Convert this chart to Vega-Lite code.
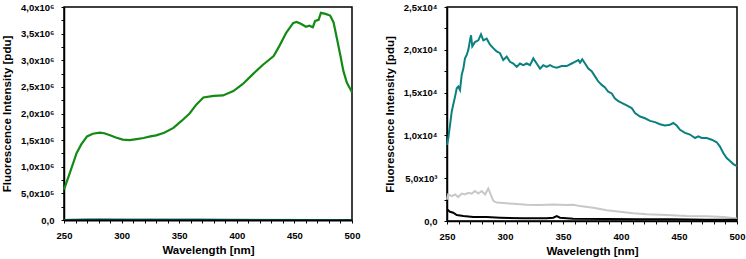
{
  "$schema": "https://vega.github.io/schema/vega-lite/v6.json",
  "background": "white",
  "padding": {"left": 0, "top": 1, "right": 0, "bottom": 0},
  "config": {
    "view": {"stroke": "black", "strokeWidth": 1.5},
    "concat": {"spacing": 22},
    "axis": {
      "domainColor": "black", "domainWidth": 1.5,
      "tickColor": "black", "tickWidth": 1, "tickSize": 3,
      "labelFont": "Liberation Sans", "labelFontWeight": "bold", "labelFontSize": 9.5, "labelColor": "black",
      "titleFont": "Liberation Sans", "titleFontWeight": "bold", "titleFontSize": 11.5, "titleColor": "black",
      "grid": false, "labelOverlap": false, "labelFlush": false
    },
    "axisX": {"labelPadding": 7, "titlePadding": 5},
    "axisY": {"labelPadding": 7, "titlePadding": 8}
  },
  "datasets": {
    "spectra": [
      {"series": "A", "wl": 250, "v": 570000},
      {"series": "A", "wl": 255, "v": 880000},
      {"series": "A", "wl": 261, "v": 1260000},
      {"series": "A", "wl": 265, "v": 1420000},
      {"series": "A", "wl": 270, "v": 1570000},
      {"series": "A", "wl": 275, "v": 1620000},
      {"series": "A", "wl": 281, "v": 1640000},
      {"series": "A", "wl": 285, "v": 1630000},
      {"series": "A", "wl": 290, "v": 1590000},
      {"series": "A", "wl": 295, "v": 1550000},
      {"series": "A", "wl": 301, "v": 1510000},
      {"series": "A", "wl": 307, "v": 1500000},
      {"series": "A", "wl": 313, "v": 1520000},
      {"series": "A", "wl": 319, "v": 1540000},
      {"series": "A", "wl": 325, "v": 1570000},
      {"series": "A", "wl": 330, "v": 1590000},
      {"series": "A", "wl": 337, "v": 1640000},
      {"series": "A", "wl": 345, "v": 1730000},
      {"series": "A", "wl": 352, "v": 1860000},
      {"series": "A", "wl": 359, "v": 2000000},
      {"series": "A", "wl": 365, "v": 2170000},
      {"series": "A", "wl": 371, "v": 2300000},
      {"series": "A", "wl": 380, "v": 2330000},
      {"series": "A", "wl": 388, "v": 2340000},
      {"series": "A", "wl": 397, "v": 2420000},
      {"series": "A", "wl": 405, "v": 2550000},
      {"series": "A", "wl": 414, "v": 2740000},
      {"series": "A", "wl": 423, "v": 2920000},
      {"series": "A", "wl": 432, "v": 3080000},
      {"series": "A", "wl": 437, "v": 3270000},
      {"series": "A", "wl": 443, "v": 3520000},
      {"series": "A", "wl": 449, "v": 3700000},
      {"series": "A", "wl": 452, "v": 3720000},
      {"series": "A", "wl": 456, "v": 3680000},
      {"series": "A", "wl": 460, "v": 3630000},
      {"series": "A", "wl": 463, "v": 3650000},
      {"series": "A", "wl": 466, "v": 3620000},
      {"series": "A", "wl": 468, "v": 3740000},
      {"series": "A", "wl": 471, "v": 3760000},
      {"series": "A", "wl": 473, "v": 3890000},
      {"series": "A", "wl": 477, "v": 3870000},
      {"series": "A", "wl": 481, "v": 3840000},
      {"series": "A", "wl": 484, "v": 3710000},
      {"series": "A", "wl": 487, "v": 3400000},
      {"series": "A", "wl": 490, "v": 3080000},
      {"series": "A", "wl": 492.5, "v": 2800000},
      {"series": "A", "wl": 495.5, "v": 2580000},
      {"series": "A", "wl": 500, "v": 2400000},

      {"series": "B", "wl": 250, "v": 8900},
      {"series": "B", "wl": 251.1, "v": 9700},
      {"series": "B", "wl": 252.6, "v": 11200},
      {"series": "B", "wl": 254.1, "v": 12800},
      {"series": "B", "wl": 255.4, "v": 13600},
      {"series": "B", "wl": 256.9, "v": 14500},
      {"series": "B", "wl": 258.4, "v": 15500},
      {"series": "B", "wl": 259.7, "v": 15700},
      {"series": "B", "wl": 261.2, "v": 15300},
      {"series": "B", "wl": 262.7, "v": 17100},
      {"series": "B", "wl": 264.1, "v": 17800},
      {"series": "B", "wl": 265.5, "v": 19000},
      {"series": "B", "wl": 267, "v": 19400},
      {"series": "B", "wl": 268.4, "v": 20000},
      {"series": "B", "wl": 269.8, "v": 21100},
      {"series": "B", "wl": 270.7, "v": 21700},
      {"series": "B", "wl": 271.8, "v": 20400},
      {"series": "B", "wl": 274.1, "v": 20900},
      {"series": "B", "wl": 277, "v": 21100},
      {"series": "B", "wl": 279.3, "v": 21800},
      {"series": "B", "wl": 281.3, "v": 21100},
      {"series": "B", "wl": 284.2, "v": 21300},
      {"series": "B", "wl": 287.1, "v": 20600},
      {"series": "B", "wl": 289.9, "v": 20200},
      {"series": "B", "wl": 292.8, "v": 19800},
      {"series": "B", "wl": 295.7, "v": 19600},
      {"series": "B", "wl": 298.5, "v": 18800},
      {"series": "B", "wl": 301.5, "v": 19200},
      {"series": "B", "wl": 304.3, "v": 18600},
      {"series": "B", "wl": 307.2, "v": 18400},
      {"series": "B", "wl": 310.1, "v": 18000},
      {"series": "B", "wl": 312.9, "v": 18400},
      {"series": "B", "wl": 315.8, "v": 18200},
      {"series": "B", "wl": 318.7, "v": 18400},
      {"series": "B", "wl": 321.6, "v": 18200},
      {"series": "B", "wl": 324.4, "v": 19000},
      {"series": "B", "wl": 327.3, "v": 18400},
      {"series": "B", "wl": 330.2, "v": 17800},
      {"series": "B", "wl": 333, "v": 18200},
      {"series": "B", "wl": 335.9, "v": 18000},
      {"series": "B", "wl": 338.8, "v": 18200},
      {"series": "B", "wl": 341.6, "v": 18000},
      {"series": "B", "wl": 344.6, "v": 17900},
      {"series": "B", "wl": 348.9, "v": 18100},
      {"series": "B", "wl": 353.2, "v": 18100},
      {"series": "B", "wl": 357.5, "v": 18400},
      {"series": "B", "wl": 360.3, "v": 18600},
      {"series": "B", "wl": 363.2, "v": 18800},
      {"series": "B", "wl": 364.7, "v": 18500},
      {"series": "B", "wl": 366.6, "v": 18900},
      {"series": "B", "wl": 369, "v": 18400},
      {"series": "B", "wl": 371.8, "v": 17800},
      {"series": "B", "wl": 374.7, "v": 17500},
      {"series": "B", "wl": 377.6, "v": 16900},
      {"series": "B", "wl": 380.4, "v": 16300},
      {"series": "B", "wl": 383.4, "v": 15900},
      {"series": "B", "wl": 386.2, "v": 15600},
      {"series": "B", "wl": 389, "v": 15100},
      {"series": "B", "wl": 392, "v": 14900},
      {"series": "B", "wl": 394.8, "v": 14300},
      {"series": "B", "wl": 397.7, "v": 14000},
      {"series": "B", "wl": 400.6, "v": 13800},
      {"series": "B", "wl": 404.9, "v": 13500},
      {"series": "B", "wl": 409.2, "v": 13200},
      {"series": "B", "wl": 412.1, "v": 12600},
      {"series": "B", "wl": 416.4, "v": 12200},
      {"series": "B", "wl": 420.7, "v": 12000},
      {"series": "B", "wl": 425, "v": 11700},
      {"series": "B", "wl": 429.3, "v": 11550},
      {"series": "B", "wl": 433.6, "v": 11300},
      {"series": "B", "wl": 437.9, "v": 11150},
      {"series": "B", "wl": 442.2, "v": 11250},
      {"series": "B", "wl": 445.1, "v": 11450},
      {"series": "B", "wl": 448, "v": 11150},
      {"series": "B", "wl": 450.9, "v": 10650},
      {"series": "B", "wl": 455.2, "v": 10300},
      {"series": "B", "wl": 459.5, "v": 10100},
      {"series": "B", "wl": 463.8, "v": 9700},
      {"series": "B", "wl": 466.6, "v": 9900},
      {"series": "B", "wl": 469.6, "v": 9700},
      {"series": "B", "wl": 473.9, "v": 9700},
      {"series": "B", "wl": 478.2, "v": 9500},
      {"series": "B", "wl": 482.5, "v": 9200},
      {"series": "B", "wl": 485.3, "v": 8700},
      {"series": "B", "wl": 488.2, "v": 7950},
      {"series": "B", "wl": 491.1, "v": 7350},
      {"series": "B", "wl": 494, "v": 7000},
      {"series": "B", "wl": 496.8, "v": 6650},
      {"series": "B", "wl": 500, "v": 6400},

      {"series": "C", "wl": 250, "v": 2500},
      {"series": "C", "wl": 251, "v": 3100},
      {"series": "C", "wl": 254, "v": 2900},
      {"series": "C", "wl": 257, "v": 3100},
      {"series": "C", "wl": 259.7, "v": 2800},
      {"series": "C", "wl": 262.7, "v": 3200},
      {"series": "C", "wl": 265.5, "v": 3100},
      {"series": "C", "wl": 268.4, "v": 3300},
      {"series": "C", "wl": 271.3, "v": 3200},
      {"series": "C", "wl": 274.1, "v": 3500},
      {"series": "C", "wl": 277, "v": 3200},
      {"series": "C", "wl": 279.9, "v": 3500},
      {"series": "C", "wl": 282.8, "v": 3100},
      {"series": "C", "wl": 285.6, "v": 3800},
      {"series": "C", "wl": 287.1, "v": 3300},
      {"series": "C", "wl": 289.9, "v": 2350},
      {"series": "C", "wl": 292.8, "v": 2150},
      {"series": "C", "wl": 295.7, "v": 2130},
      {"series": "C", "wl": 307.2, "v": 2010},
      {"series": "C", "wl": 318.7, "v": 1900},
      {"series": "C", "wl": 330.2, "v": 1860},
      {"series": "C", "wl": 341.6, "v": 1940},
      {"series": "C", "wl": 353.2, "v": 1860},
      {"series": "C", "wl": 358.9, "v": 1900},
      {"series": "C", "wl": 364.7, "v": 1740},
      {"series": "C", "wl": 376.1, "v": 1550},
      {"series": "C", "wl": 387.7, "v": 1250},
      {"series": "C", "wl": 399.1, "v": 1080},
      {"series": "C", "wl": 410.6, "v": 900},
      {"series": "C", "wl": 422.2, "v": 780},
      {"series": "C", "wl": 439.4, "v": 700},
      {"series": "C", "wl": 456.6, "v": 580},
      {"series": "C", "wl": 473.9, "v": 560},
      {"series": "C", "wl": 488.2, "v": 470},
      {"series": "C", "wl": 500, "v": 300},

      {"series": "D", "wl": 250, "v": 1360},
      {"series": "D", "wl": 252.6, "v": 1080},
      {"series": "D", "wl": 255.4, "v": 970},
      {"series": "D", "wl": 258.4, "v": 700},
      {"series": "D", "wl": 264.1, "v": 580},
      {"series": "D", "wl": 272.7, "v": 470},
      {"series": "D", "wl": 284.2, "v": 470},
      {"series": "D", "wl": 295.7, "v": 390},
      {"series": "D", "wl": 315.8, "v": 310},
      {"series": "D", "wl": 335.9, "v": 310},
      {"series": "D", "wl": 341.6, "v": 390},
      {"series": "D", "wl": 344.6, "v": 580},
      {"series": "D", "wl": 347.4, "v": 390},
      {"series": "D", "wl": 358.9, "v": 270},
      {"series": "D", "wl": 387.7, "v": 230},
      {"series": "D", "wl": 416.4, "v": 190},
      {"series": "D", "wl": 445.1, "v": 190},
      {"series": "D", "wl": 473.9, "v": 150},
      {"series": "D", "wl": 500, "v": 150}
    ]
  },
  "hconcat": [
    {
      "width": 288,
      "height": 213,
      "data": {"name": "spectra"},
      "encoding": {
        "x": {
          "field": "wl", "type": "quantitative",
          "scale": {"domain": [250, 500], "nice": false, "zero": false},
          "axis": {
            "title": "Wavelength [nm]", "zindex": 1, "domainWidth": 2,
            "values": [250, 260, 270, 280, 290, 300, 310, 320, 330, 340, 350, 360, 370, 380, 390, 400, 410, 420, 430, 440, 450, 460, 470, 480, 490, 500],
            "labelExpr": "datum.value % 50 == 0 ? format(datum.value, 'd') : ''"
          }
        },
        "y": {
          "field": "v", "type": "quantitative",
          "scale": {"domain": [0, 4000000], "nice": false},
          "axis": {
            "title": "Fluorescence Intensity [pdu]",
            "values": [0, 250000, 500000, 750000, 1000000, 1250000, 1500000, 1750000, 2000000, 2250000, 2500000, 2750000, 3000000, 3250000, 3500000, 3750000, 4000000],
            "labelExpr": "datum.value % 500000 != 0 ? '' : datum.value == 0 ? '0,0' : datum.value < 1000000 ? replace(format(datum.value / 100000, '.1f'), '.', ',') + 'x10⁵' : replace(format(datum.value / 1000000, '.1f'), '.', ',') + 'x10⁶'"
          }
        }
      },
      "layer": [
        {
          "transform": [{"filter": "datum.series == 'B'"}],
          "mark": {"type": "line", "color": "#0a8080", "strokeWidth": 1}
        },
        {
          "transform": [{"filter": "datum.series == 'A'"}],
          "mark": {"type": "line", "color": "#138a13", "strokeWidth": 2.2}
        }
      ]
    },
    {
      "width": 290,
      "height": 214,
      "data": {"name": "spectra"},
      "transform": [{"filter": "datum.series != 'A'"}],
      "encoding": {
        "x": {
          "field": "wl", "type": "quantitative",
          "scale": {"domain": [250, 500], "nice": false, "zero": false},
          "axis": {
            "title": "Wavelength [nm]",
            "values": [250, 260, 270, 280, 290, 300, 310, 320, 330, 340, 350, 360, 370, 380, 390, 400, 410, 420, 430, 440, 450, 460, 470, 480, 490, 500],
            "labelExpr": "datum.value % 50 == 0 ? format(datum.value, 'd') : ''"
          }
        },
        "y": {
          "field": "v", "type": "quantitative",
          "scale": {"domain": [0, 25000], "nice": false},
          "axis": {
            "title": "Fluorescence Intensity [pdu]",
            "values": [0, 2500, 5000, 7500, 10000, 12500, 15000, 17500, 20000, 22500, 25000],
            "labelExpr": "datum.value % 5000 != 0 ? '' : datum.value == 0 ? '0,0' : datum.value < 10000 ? replace(format(datum.value / 1000, '.1f'), '.', ',') + 'x10³' : replace(format(datum.value / 10000, '.1f'), '.', ',') + 'x10⁴'"
          }
        },
        "color": {
          "field": "series", "type": "nominal",
          "scale": {"domain": ["B", "C", "D"], "range": ["#0a8080", "#c8c8c8", "#000000"]},
          "legend": null
        },
        "order": {"field": "wl", "type": "quantitative"}
      },
      "mark": {"type": "line", "strokeWidth": 2}
    }
  ]
}
